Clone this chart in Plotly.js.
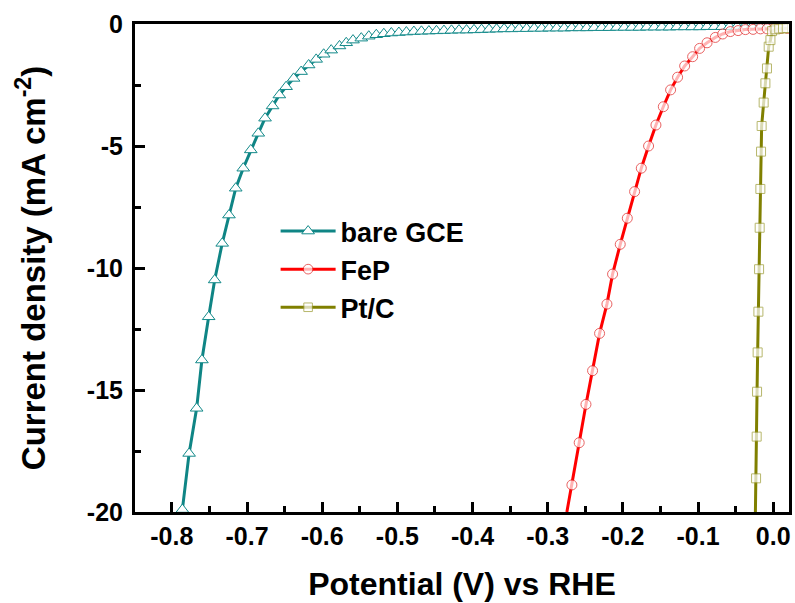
<!DOCTYPE html>
<html>
<head>
<meta charset="utf-8">
<script src="https://cdn.plot.ly/plotly-3.0.1.min.js"></script>
<style>html,body{margin:0;padding:0;background:#fff;}#chart{width:795px;height:603px;}</style>
</head>
<body>
<div id="chart"></div>
<script>
// bare GCE
const gceX = [-0.786,-0.777,-0.767,-0.760,-0.751,-0.743,-0.733,-0.724,-0.715,-0.705,-0.695,-0.685,-0.676,-0.666,-0.657,-0.648,-0.638,-0.628,-0.618,-0.608,-0.598,-0.588,-0.577,-0.568,-0.559,-0.548,-0.538,-0.528,-0.518,-0.508,-0.498,-0.488,-0.478,-0.468,-0.458,-0.448,-0.438,-0.428,-0.418,-0.408,-0.398,-0.388,-0.378,-0.368,-0.358,-0.348,-0.338,-0.328,-0.318,-0.308,-0.298,-0.288,-0.278,-0.268,-0.258,-0.248,-0.238,-0.228,-0.218,-0.208,-0.198,-0.188,-0.178,-0.168,-0.158,-0.148,-0.138,-0.128,-0.118,-0.108,-0.098,-0.088,-0.078,-0.068,-0.058,-0.048,-0.038,-0.028,-0.018,-0.008];
const gceY = [-19.9,-17.6,-15.75,-13.77,-12.0,-10.49,-8.99,-7.83,-6.73,-5.91,-5.16,-4.48,-3.86,-3.36,-2.91,-2.57,-2.23,-1.95,-1.68,-1.45,-1.24,-1.07,-0.90,-0.77,-0.66,-0.58,-0.50,-0.44,-0.40,-0.37,-0.35,-0.33,-0.31,-0.30,-0.29,-0.28,-0.27,-0.26,-0.25,-0.25,-0.24,-0.23,-0.22,-0.21,-0.20,-0.20,-0.19,-0.19,-0.18,-0.18,-0.17,-0.17,-0.17,-0.16,-0.16,-0.16,-0.15,-0.15,-0.15,-0.14,-0.14,-0.14,-0.14,-0.13,-0.13,-0.13,-0.13,-0.12,-0.12,-0.12,-0.12,-0.11,-0.11,-0.11,-0.11,-0.10,-0.10,-0.10,-0.10,-0.10];
// FeP
const fepX = [-0.2745,-0.2678,-0.2581,-0.2491,-0.2403,-0.2310,-0.2212,-0.2137,-0.2035,-0.1941,-0.1844,-0.1755,-0.1658,-0.1560,-0.1462,-0.1365,-0.1272,-0.1178,-0.1072,-0.0979,-0.0880,-0.0770,-0.0672,-0.0570,-0.0467,-0.0370,-0.0268,-0.0170,-0.0080,0.0010,0.0100,0.0190];
const fepY = [-20.0,-18.89,-17.16,-15.59,-14.21,-12.68,-11.48,-10.25,-9.03,-7.96,-6.87,-5.91,-5.00,-4.14,-3.39,-2.70,-2.18,-1.72,-1.34,-1.00,-0.77,-0.55,-0.41,-0.31,-0.27,-0.23,-0.22,-0.20,-0.20,-0.19,-0.18,-0.18];
// Pt/C
const ptcX = [-0.0237,-0.0228,-0.0220,-0.0215,-0.0207,-0.0197,-0.0188,-0.0180,-0.0171,-0.0162,-0.0154,-0.0127,-0.0104,-0.0083,-0.0060,-0.0037,-0.0015,0.0030,0.0080,0.0130,0.0180];
const ptcY = [-20.0,-18.62,-16.91,-15.07,-13.46,-11.79,-10.05,-8.35,-6.76,-5.23,-4.18,-3.22,-2.43,-1.82,-0.93,-0.66,-0.29,-0.22,-0.19,-0.18,-0.17];

const xTickVals = [-0.8,-0.7,-0.6,-0.5,-0.4,-0.3,-0.2,-0.1,0.0];
const xTickText = ["-0.8","-0.7","-0.6","-0.5","-0.4","-0.3","-0.2","-0.1","0.0"];
const yTickVals = [0,-5,-10,-15,-20];
const yTickText = ["0","-5","-10","-15","-20"];

const seriesNames = ["bare GCE","FeP","Pt/C"];

const FONT = "Liberation Sans, Arial, sans-serif";

// first point of FeP and Pt/C is only the line end (no marker drawn there)
const fepSizes = fepX.map((_, i) => i === 0 ? 0 : 10);
const ptcSizes = ptcX.map((_, i) => i === 0 ? 0 : 9);

const traces = [
  {x: gceX, y: gceY, name: seriesNames[0], mode: "lines+markers", type: "scatter",
   line: {color: "#0f8585", width: 3},
   marker: {symbol: "triangle-up", size: 11, color: "#ffffff", line: {color: "#138a8a", width: 1}}},
  {x: fepX, y: fepY, name: seriesNames[1], mode: "lines+markers", type: "scatter",
   line: {color: "#ff0000", width: 3},
   marker: {symbol: "circle", size: fepSizes, color: "#ffffff", line: {color: "#e02020", width: 1}}},
  {x: ptcX, y: ptcY, name: seriesNames[2], mode: "lines+markers", type: "scatter",
   line: {color: "#808000", width: 3},
   marker: {symbol: "square", size: ptcSizes, color: "#ffffff", line: {color: "#9a9a30", width: 1}}}
];

const layout = {
  width: 795, height: 603,
  paper_bgcolor: "#ffffff", plot_bgcolor: "#ffffff",
  margin: {l: 135, r: 6, t: 24, b: 91},
  font: {family: FONT, color: "#000", weight: "bold"},
  showlegend: true,
  legend: {x: 0.215, y: 0.625, xanchor: "left", yanchor: "top", bgcolor: "rgba(0,0,0,0)",
           font: {family: FONT, size: 27, weight: "bold", color: "#000"}, itemwidth: 55, tracegroupgap: 0},
  xaxis: {
    range: [-0.849, 0.021], showgrid: false, zeroline: false,
    showline: true, linecolor: "#000", linewidth: 3, mirror: true,
    tickmode: "array", tickvals: xTickVals, ticktext: xTickText,
    ticks: "inside", ticklen: 10, tickwidth: 3, tickcolor: "#000",
    tickfont: {family: FONT, size: 25, weight: "bold", color: "#000"},
    minor: {ticks: "inside", ticklen: 6, tickwidth: 3, tickcolor: "#000", dtick: 0.05, tick0: 0, showgrid: false},
    title: {text: "Potential (V) vs RHE", font: {family: FONT, size: 32, weight: "bold", color: "#000"}, standoff: 24}
  },
  yaxis: {
    range: [-20, 0], showgrid: false, zeroline: false,
    showline: true, linecolor: "#000", linewidth: 3, mirror: true,
    tickmode: "array", tickvals: yTickVals, ticktext: yTickText,
    ticks: "inside", ticklen: 10, tickwidth: 3, tickcolor: "#000", ticklabelstandoff: 4,
    tickfont: {family: FONT, size: 25, weight: "bold", color: "#000"},
    minor: {ticks: "inside", ticklen: 6, tickwidth: 3, tickcolor: "#000", dtick: 2.5, tick0: 0, showgrid: false},
    title: {text: "Current density (mA cm<sup>-2</sup>)", font: {family: FONT, size: 33, weight: "bold", color: "#000"}, standoff: 32}
  }
};

Plotly.newPlot("chart", traces, layout, {displayModeBar: false, staticPlot: true});
</script>
</body>
</html>
